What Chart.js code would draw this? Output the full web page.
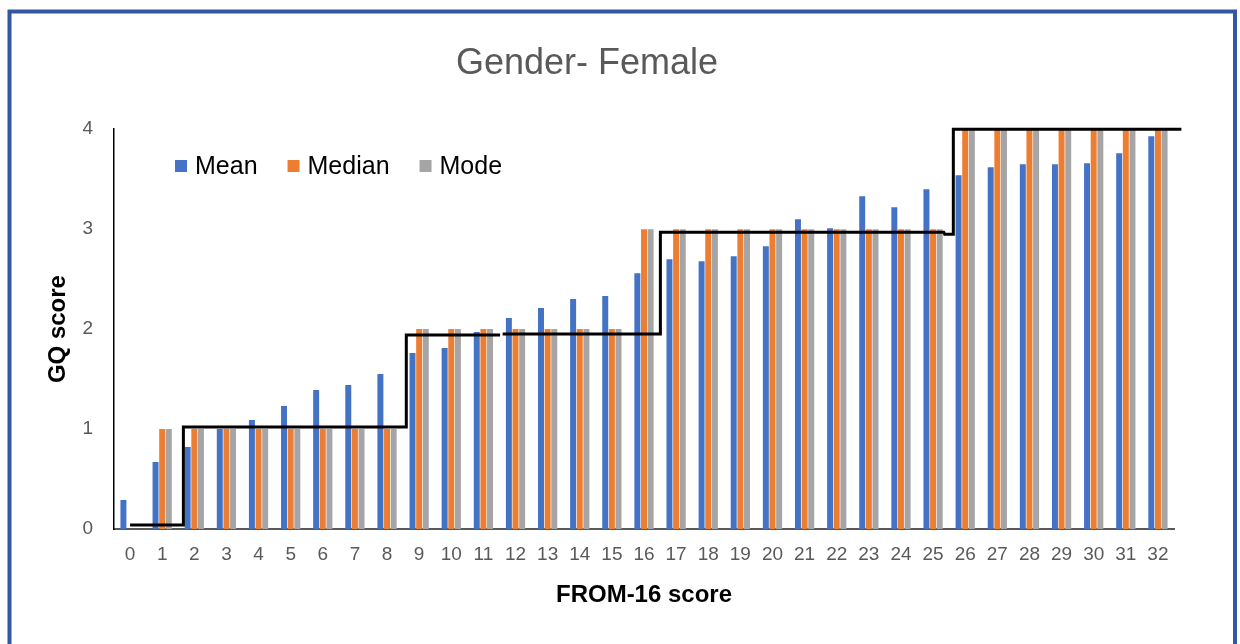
<!DOCTYPE html>
<html>
<head>
<meta charset="utf-8">
<title>Gender- Female</title>
<script src="https://cdn.jsdelivr.net/npm/chart.js@4.4.1/dist/chart.umd.min.js"></script>
<style>
  html, body { margin: 0; padding: 0; background: #ffffff; }
  canvas { display: block; }
</style>
</head>
<body>
<canvas id="chart" width="1240" height="644"></canvas>
<script>
// FROM-16 score categories (x axis tick labels)
const fromScores = ['0','1','2','3','4','5','6','7','8','9','10','11','12','13','14','15','16',
                    '17','18','19','20','21','22','23','24','25','26','27','28','29','30','31','32'];

// GQ score summary statistics per FROM-16 score
const meanGQ   = [0.29, 0.67, 0.82, 1.00, 1.09, 1.23, 1.39, 1.44, 1.55, 1.76, 1.81, 1.97, 2.11,
                  2.21, 2.30, 2.33, 2.56, 2.70, 2.68, 2.73, 2.83, 3.10, 3.01, 3.33, 3.22, 3.40,
                  3.54, 3.62, 3.65, 3.65, 3.66, 3.76, 3.93];
const medianGQ = [0, 1, 1, 1, 1, 1, 1, 1, 1, 2, 2, 2, 2, 2, 2, 2, 3, 3, 3, 3, 3, 3, 3, 3, 3, 3,
                  4, 4, 4, 4, 4, 4, 4];
const modeGQ   = [0, 1, 1, 1, 1, 1, 1, 1, 1, 2, 2, 2, 2, 2, 2, 2, 3, 3, 3, 3, 3, 3, 3, 3, 3, 3,
                  4, 4, 4, 4, 4, 4, 4];

// Step outline: corner points (position in category units, GQ score); null breaks the line
const stepX = [0.00, 1.66, 1.66, 8.60, 8.60, 11.52, 11.56, 11.60, 16.51, 16.51, 25.33, 25.36, 25.63, 25.63, 32.73];
const stepY = [0.04, 0.04, 1.02, 1.02, 1.94, 1.94, null, 1.95, 1.95, 2.97, 2.97, 2.95, 2.95, 4.00, 4.00];

// y axis ticks
const gqTicks = [0, 1, 2, 3, 4];

const FONT = "'Liberation Sans', Arial, Helvetica, sans-serif";
Chart.defaults.font.family = FONT;

// Frame around the whole figure
const framePlugin = {
  id: 'frame',
  beforeDraw(chart) {
    const ctx = chart.ctx;
    ctx.save();
    ctx.fillStyle = '#ffffff';
    ctx.fillRect(0, 0, chart.width, chart.height);
    ctx.strokeStyle = '#3158a0';
    ctx.lineWidth = 4;
    ctx.beginPath();
    ctx.moveTo(9.5, chart.height + 10);
    ctx.lineTo(9.5, 11.5);
    ctx.lineTo(1235, 11.5);
    ctx.lineTo(1235, chart.height + 10);
    ctx.stroke();
    ctx.restore();
  }
};

// Step outline mapped through the chart's x (category index) and y scales
const stepOutline = {
  id: 'stepOutline',
  afterDatasetsDraw(chart, args, opts) {
    const { ctx, scales: { x, y } } = chart;
    ctx.save();
    ctx.strokeStyle = opts.color;
    ctx.lineWidth = opts.width;
    ctx.lineJoin = 'miter';
    ctx.beginPath();
    let pen = false;
    for (let i = 0; i < stepX.length; i++) {
      if (stepY[i] === null) { pen = false; continue; }
      const px = x.getPixelForValue(stepX[i]);
      const py = y.getPixelForValue(stepY[i]);
      if (pen) ctx.lineTo(px, py); else ctx.moveTo(px, py);
      pen = true;
    }
    ctx.stroke();
    ctx.restore();
  }
};

// Legend drawn inside the plot area, upper left
const insideLegend = {
  id: 'insideLegend',
  afterDraw(chart, args, opts) {
    const ctx = chart.ctx;
    ctx.save();
    ctx.font = opts.size + 'px ' + FONT;
    ctx.textBaseline = 'middle';
    let x = opts.x;
    const y = opts.y;
    chart.data.datasets.forEach(ds => {
      ctx.fillStyle = ds.backgroundColor;
      ctx.fillRect(x, y - 6, 12, 12);
      ctx.fillStyle = '#000000';
      ctx.fillText(ds.label, x + 20, y + 1);
      x += 20 + ctx.measureText(ds.label).width + opts.gap;
    });
    ctx.restore();
  }
};

const barCommon = { borderWidth: 0, barPercentage: 0.9, categoryPercentage: 0.62 };

new Chart(document.getElementById('chart'), {
  type: 'bar',
  data: {
    labels: fromScores,
    datasets: [
      Object.assign({ label: 'Mean',   data: meanGQ,   backgroundColor: '#4472c4' }, barCommon),
      Object.assign({ label: 'Median', data: medianGQ, backgroundColor: '#ed7d31' }, barCommon),
      Object.assign({ label: 'Mode',   data: modeGQ,   backgroundColor: '#a5a5a5' }, barCommon)
    ]
  },
  options: {
    responsive: false,
    animation: false,
    layout: { padding: { top: 0, right: 66, bottom: 0, left: 0 } },
    plugins: {
      legend: { display: false },
      tooltip: { enabled: false },
      title: {
        display: true,
        text: 'Gender- Female',
        color: '#595959',
        font: { size: 36, weight: 'normal', family: FONT },
        padding: { top: 42, bottom: 44 }
      },
      insideLegend: { x: 175, y: 166, size: 25, gap: 30 },
      stepOutline: { color: '#000000', width: 3 }
    },
    scales: {
      x: {
        type: 'category',
        offset: true,
        grid: { display: false, drawTicks: false },
        border: { display: true, color: '#595959', width: 2 },
        ticks: {
          color: '#595959',
          font: { size: 19, family: FONT },
          padding: 14,
          maxRotation: 0,
          autoSkip: false
        },
        title: {
          display: true,
          text: 'FROM-16 score',
          color: '#000000',
          font: { size: 24, weight: 'bold', family: FONT },
          padding: { top: 0, bottom: 34 }
        },
        afterFit(scale) { scale.height = 115; }
      },
      y: {
        type: 'linear',
        min: gqTicks[0],
        max: gqTicks[gqTicks.length - 1],
        grid: { display: false, drawTicks: false },
        border: { display: true, color: '#000000', width: 1.5 },
        ticks: {
          stepSize: 1,
          color: '#595959',
          font: { size: 19, family: FONT },
          padding: 21
        },
        title: {
          display: true,
          text: 'GQ score',
          color: '#000000',
          font: { size: 24, weight: 'bold', family: FONT },
          padding: { top: 44, bottom: 0 }
        },
        afterFit(scale) { scale.width = 114; }
      }
    }
  },
  plugins: [framePlugin, stepOutline, insideLegend]
});
</script>
</body>
</html>
